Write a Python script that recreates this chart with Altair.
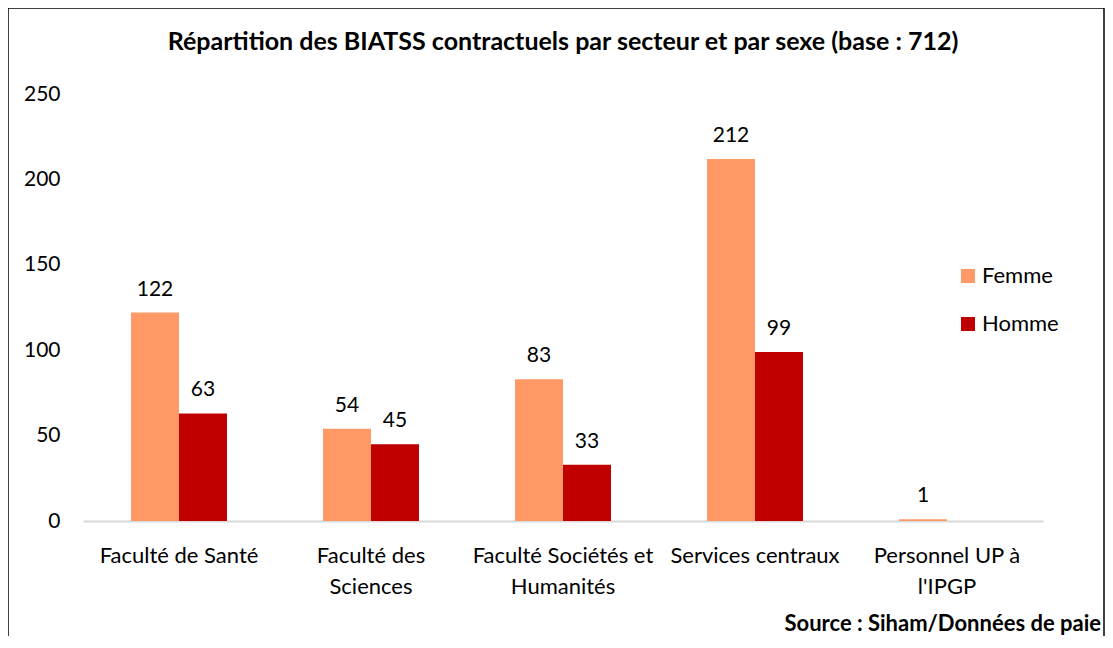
import altair as alt
import pandas as pd

categories = ["Faculté de Santé", "Faculté des Sciences", "Faculté Sociétés et Humanités",
              "Services centraux", "Personnel UP à l'IPGP"]
femme = [122, 54, 83, 212, 1]
homme = [63, 45, 33, 99, 0]
series = ["Femme", "Homme"]
colors = ["#FF9966", "#C00000"]
y_ticks = [0, 50, 100, 150, 200, 250]
title_text = "Répartition des BIATSS contractuels par secteur et par sexe (base : 712)"
source_text = "Source : Siham/Données de paie"

rows = []
for c, f, h in zip(categories, femme, homme):
    rows.append({"Secteur": c, "Sexe": "Femme", "Effectif": f})
    rows.append({"Secteur": c, "Sexe": "Homme", "Effectif": h})
df = pd.DataFrame(rows)

FONT = "Lato"

label_expr = (
    "datum.label == 'Faculté des Sciences' ? ['Faculté des', 'Sciences'] : "
    "datum.label == 'Faculté Sociétés et Humanités' ? ['Faculté Sociétés et', 'Humanités'] : "
    "datum.label == \"Personnel UP à l'IPGP\" ? ['Personnel UP à', \"l'IPGP\"] : datum.label"
)

x_enc = alt.X("Secteur:N", sort=categories,
              scale=alt.Scale(paddingInner=0.5, paddingOuter=0.25),
              axis=alt.Axis(title=None, labelAngle=0, ticks=False, domainColor="#d9d9d9",
                            domainWidth=2, labelFontSize=22, labelColor="#000000",
                            labelPadding=24, labelLineHeight=31, labelExpr=label_expr,
                            labelLimit=300))
y_enc = alt.Y("Effectif:Q", scale=alt.Scale(domain=[0, 250], nice=False),
              axis=alt.Axis(title=None, values=y_ticks, grid=False, domain=False, ticks=False,
                            labelFontSize=21, labelColor="#000000", labelPadding=23))

base = alt.Chart(df)

bars = base.mark_bar().encode(
    x=x_enc,
    xOffset=alt.XOffset("Sexe:N", sort=series),
    y=y_enc,
    color=alt.Color("Sexe:N", sort=series,
                    scale=alt.Scale(domain=series, range=colors),
                    legend=alt.Legend(title=None, orient="none", legendX=874, legendY=171,
                                      symbolType="square", symbolSize=196, symbolStrokeWidth=0,
                                      labelFontSize=22, labelColor="#000000", labelOffset=3,
                                      rowPadding=26, padding=0)),
)

labels = base.transform_filter("datum.Effectif > 0").mark_text(
    baseline="alphabetic", dy=-17, fontSize=21, color="#000000", font=FONT
).encode(
    x=alt.X("Secteur:N", sort=categories),
    xOffset=alt.XOffset("Sexe:N", sort=series),
    y="Effectif:Q",
    text="Effectif:Q",
)

one = pd.DataFrame({"k": [0]})
frame_left = alt.Chart(one).mark_rule(color="#000000", strokeWidth=1.5).encode(
    x=alt.value(-75), y=alt.value(-86), y2=alt.value(560))
frame_top = alt.Chart(one).mark_rule(color="#000000", strokeWidth=1.5).encode(
    x=alt.value(-75), x2=alt.value(1021), y=alt.value(-86))
frame_right = alt.Chart(one).mark_rule(color="#000000", strokeWidth=1.5).encode(
    x=alt.value(1021), y=alt.value(-86), y2=alt.value(560))
title = alt.Chart(one).mark_text(
    align="center", baseline="alphabetic", fontSize=25, fontWeight="bold", font=FONT, color="#000000"
).encode(x=alt.value(480), y=alt.value(-44), text=alt.value(title_text))
source = alt.Chart(one).mark_text(
    align="right", baseline="alphabetic", fontSize=22, fontWeight="bold", font=FONT, color="#000000"
).encode(x=alt.value(1018), y=alt.value(537), text=alt.value(source_text))

chart = alt.layer(bars, labels, frame_left, frame_top, frame_right, title, source).properties(
    width=960, height=427,
    padding={"left": 75, "top": 86, "right": 62, "bottom": 115},
    autosize="none",
).configure(font=FONT).configure_view(stroke=None).configure_axis(labelFont=FONT)

chart.save("out.html", embed_options={"renderer": "svg", "actions": False})
